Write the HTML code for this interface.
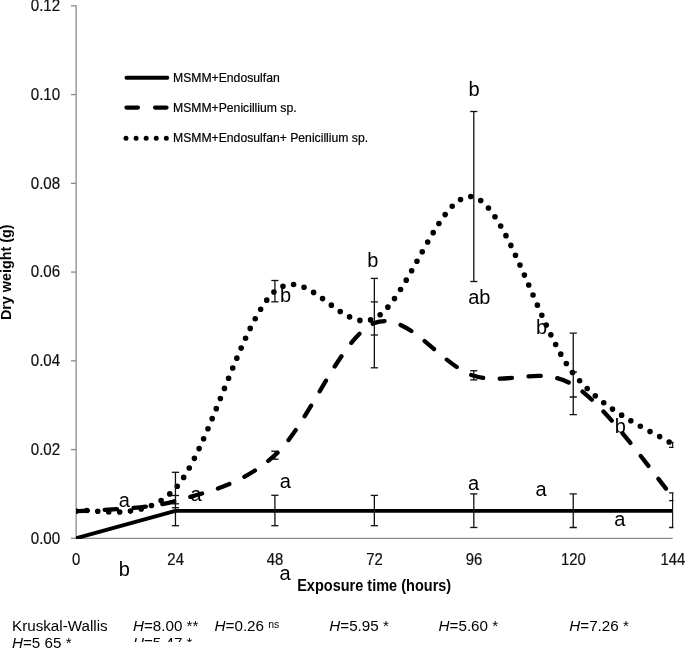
<!DOCTYPE html>
<html><head><meta charset="utf-8"><style>
html,body{margin:0;padding:0;background:#fff;}
body{width:685px;height:649px;overflow:hidden;position:relative;}
svg{position:absolute;left:0;top:0;will-change:transform;}
</style></head><body>
<svg width="685" height="649" viewBox="0 0 685 649">
<rect x="0" y="0" width="685" height="649" fill="#fff"/>
<g stroke="#8c8c8c" stroke-width="1.3" fill="none">
<line x1="76.1" y1="5.2" x2="76.1" y2="538.45"/>
<line x1="75.5" y1="538.45" x2="672.7" y2="538.45"/>
<line x1="71" y1="538.30" x2="76.1" y2="538.30"/><line x1="71" y1="449.56" x2="76.1" y2="449.56"/><line x1="71" y1="360.82" x2="76.1" y2="360.82"/><line x1="71" y1="272.08" x2="76.1" y2="272.08"/><line x1="71" y1="183.34" x2="76.1" y2="183.34"/><line x1="71" y1="94.60" x2="76.1" y2="94.60"/><line x1="71" y1="5.86" x2="76.1" y2="5.86"/>
</g>
<g font-family="Liberation Sans, sans-serif" font-size="15.6" fill="#111" stroke="#111" stroke-width="0.2">
<text transform="translate(60.2,543.70) scale(0.97,1)" text-anchor="end">0.00</text><text transform="translate(60.2,454.96) scale(0.97,1)" text-anchor="end">0.02</text><text transform="translate(60.2,366.22) scale(0.97,1)" text-anchor="end">0.04</text><text transform="translate(60.2,277.48) scale(0.97,1)" text-anchor="end">0.06</text><text transform="translate(60.2,188.74) scale(0.97,1)" text-anchor="end">0.08</text><text transform="translate(60.2,100.00) scale(0.97,1)" text-anchor="end">0.10</text><text transform="translate(60.2,11.26) scale(0.97,1)" text-anchor="end">0.12</text>
<text transform="translate(76.20,564.8) scale(0.955,1)" text-anchor="middle">0</text><text transform="translate(175.65,564.8) scale(0.955,1)" text-anchor="middle">24</text><text transform="translate(275.10,564.8) scale(0.955,1)" text-anchor="middle">48</text><text transform="translate(374.55,564.8) scale(0.955,1)" text-anchor="middle">72</text><text transform="translate(474.00,564.8) scale(0.955,1)" text-anchor="middle">96</text><text transform="translate(573.45,564.8) scale(0.955,1)" text-anchor="middle">120</text><text transform="translate(672.90,564.8) scale(0.955,1)" text-anchor="middle">144</text>
</g>
<defs><clipPath id="pc"><rect x="76" y="0" width="597.5" height="539"/></clipPath></defs>
<g clip-path="url(#pc)">
<polyline points="76.0,538.3 175.45,510.8 672.70,510.8" stroke="#000" stroke-width="3.8" fill="none" stroke-linejoin="round"/>
<path d="M76.00,511.30 C92.57,509.58 142.30,510.35 175.45,501.00 C208.60,491.65 241.75,484.85 274.90,455.20 C308.05,425.55 341.20,336.33 374.35,323.10 C407.50,309.87 440.65,365.48 473.80,375.80 C506.95,386.12 540.10,364.85 573.25,385.00 C606.40,405.15 656.12,478.08 672.70,496.70" stroke="#000" stroke-width="4.3" fill="none" stroke-linecap="round" stroke-dasharray="12.3 16.62" stroke-dashoffset="0.1"/>
<path d="M76.00,511.00 C92.57,507.22 142.30,524.93 175.45,488.30 C208.60,451.67 241.75,319.50 274.90,291.20 C308.05,262.90 341.20,334.20 374.35,318.50 C407.50,302.80 440.65,187.87 473.80,197.00 C506.95,206.13 540.10,332.08 573.25,373.30 C606.40,414.52 656.12,432.47 672.70,444.30" stroke="#000" stroke-width="5.6" fill="none" stroke-linecap="round" stroke-dasharray="0 10.876" stroke-dashoffset="-0.25"/>
<g stroke="#111" stroke-width="1.3"><line x1="175.45" y1="472.30" x2="175.45" y2="525.70"/><line x1="171.85" y1="472.30" x2="179.05" y2="472.30"/><line x1="171.85" y1="495.50" x2="179.05" y2="495.50"/><line x1="171.85" y1="503.80" x2="179.05" y2="503.80"/><line x1="171.85" y1="507.70" x2="179.05" y2="507.70"/><line x1="171.85" y1="525.70" x2="179.05" y2="525.70"/><line x1="274.90" y1="495.30" x2="274.90" y2="525.70"/><line x1="271.30" y1="495.30" x2="278.50" y2="495.30"/><line x1="271.30" y1="525.70" x2="278.50" y2="525.70"/><line x1="274.90" y1="451.20" x2="274.90" y2="459.20"/><line x1="271.30" y1="451.20" x2="278.50" y2="451.20"/><line x1="271.30" y1="459.20" x2="278.50" y2="459.20"/><line x1="274.90" y1="280.50" x2="274.90" y2="301.80"/><line x1="271.30" y1="280.50" x2="278.50" y2="280.50"/><line x1="271.30" y1="301.80" x2="278.50" y2="301.80"/><line x1="374.35" y1="278.40" x2="374.35" y2="367.80"/><line x1="370.75" y1="278.40" x2="377.95" y2="278.40"/><line x1="370.75" y1="301.90" x2="377.95" y2="301.90"/><line x1="370.75" y1="335.00" x2="377.95" y2="335.00"/><line x1="370.75" y1="367.80" x2="377.95" y2="367.80"/><line x1="374.35" y1="495.40" x2="374.35" y2="525.70"/><line x1="370.75" y1="495.40" x2="377.95" y2="495.40"/><line x1="370.75" y1="525.70" x2="377.95" y2="525.70"/><line x1="473.80" y1="111.50" x2="473.80" y2="281.50"/><line x1="470.20" y1="111.50" x2="477.40" y2="111.50"/><line x1="470.20" y1="281.50" x2="477.40" y2="281.50"/><line x1="473.80" y1="370.70" x2="473.80" y2="379.90"/><line x1="470.20" y1="370.70" x2="477.40" y2="370.70"/><line x1="470.20" y1="379.90" x2="477.40" y2="379.90"/><line x1="473.80" y1="493.90" x2="473.80" y2="527.50"/><line x1="470.20" y1="493.90" x2="477.40" y2="493.90"/><line x1="470.20" y1="527.50" x2="477.40" y2="527.50"/><line x1="573.25" y1="333.20" x2="573.25" y2="414.60"/><line x1="569.65" y1="333.20" x2="576.85" y2="333.20"/><line x1="569.65" y1="372.00" x2="576.85" y2="372.00"/><line x1="569.65" y1="397.00" x2="576.85" y2="397.00"/><line x1="569.65" y1="414.60" x2="576.85" y2="414.60"/><line x1="573.25" y1="493.90" x2="573.25" y2="527.50"/><line x1="569.65" y1="493.90" x2="576.85" y2="493.90"/><line x1="569.65" y1="527.50" x2="576.85" y2="527.50"/><line x1="672.70" y1="442.50" x2="672.70" y2="447.30"/><line x1="669.10" y1="442.50" x2="676.30" y2="442.50"/><line x1="669.10" y1="447.30" x2="676.30" y2="447.30"/><line x1="672.70" y1="492.90" x2="672.70" y2="527.50"/><line x1="669.10" y1="492.90" x2="676.30" y2="492.90"/><line x1="669.10" y1="500.60" x2="676.30" y2="500.60"/><line x1="669.10" y1="527.50" x2="676.30" y2="527.50"/></g>
</g>
<g font-family="Liberation Sans, sans-serif" font-size="20" fill="#000">
<text x="118.66" y="506.50">a</text><text x="190.61" y="501.00">a</text><text x="118.76" y="576.00">b</text><text x="279.66" y="487.70">a</text><text x="279.51" y="580.40">a</text><text x="280.06" y="301.90">b</text><text x="367.36" y="267.10">b</text><text x="468.41" y="96.30">b</text><text x="468.22" y="304.00">ab</text><text x="468.11" y="490.10">a</text><text x="535.51" y="495.90">a</text><text x="536.11" y="333.80">b</text><text x="614.86" y="432.70">b</text><text x="614.26" y="526.00">a</text>
</g>
<!-- legend -->
<line x1="126.5" y1="77.8" x2="167.3" y2="77.8" stroke="#000" stroke-width="4" stroke-linecap="round"/>
<line x1="126.4" y1="107.6" x2="167.5" y2="107.6" stroke="#000" stroke-width="4.1" stroke-linecap="round" stroke-dasharray="11.6 17"/>
<line x1="126" y1="138.3" x2="167" y2="138.3" stroke="#000" stroke-width="5" stroke-linecap="round" stroke-dasharray="0 10.08"/>
<g font-family="Liberation Sans, sans-serif" font-size="12.2" fill="#000" stroke="#000" stroke-width="0.2">
<text x="173" y="82">MSMM+Endosulfan</text>
<text x="173" y="112">MSMM+Penicillium sp.</text>
<text x="173" y="142">MSMM+Endosulfan+ Penicillium sp.</text>
</g>
<text transform="translate(11.1,272.3) rotate(-90)" text-anchor="middle" font-family="Liberation Sans, sans-serif" font-weight="bold" font-size="15" textLength="95.5" lengthAdjust="spacingAndGlyphs" fill="#000">Dry weight (g)</text>
<text x="374.2" y="590.6" text-anchor="middle" font-family="Liberation Sans, sans-serif" font-weight="bold" font-size="15.6" textLength="154" lengthAdjust="spacingAndGlyphs" fill="#000">Exposure time (hours)</text>
<g font-family="Liberation Sans, sans-serif" font-size="15.2" fill="#000">
<text x="12" y="631.3">Kruskal-Wallis</text>
<text x="133" y="631.3"><tspan font-style="italic">H</tspan>=8.00 **</text>
<text x="214.6" y="631.3"><tspan font-style="italic">H</tspan>=0.26 <tspan font-size="10.4" dy="-3.5">ns</tspan></text>
<text x="329.3" y="631.3"><tspan font-style="italic">H</tspan>=5.95 *</text>
<text x="438.6" y="631.3"><tspan font-style="italic">H</tspan>=5.60 *</text>
<text x="569.3" y="631.3"><tspan font-style="italic">H</tspan>=7.26 *</text>
<text x="12" y="648.1"><tspan font-style="italic">H</tspan>=5<tspan fill="#fff">.</tspan>65 *</text>
<text x="133" y="648.1"><tspan font-style="italic">H</tspan>=5.47 *</text>
</g>
<rect x="110" y="642" width="575" height="7" fill="#fff"/>
</svg>
</body></html>
